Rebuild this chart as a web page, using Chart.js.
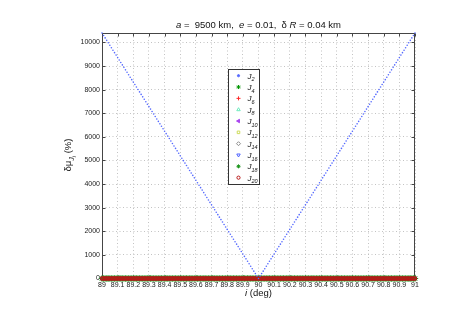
<!DOCTYPE html>
<html><head><meta charset="utf-8">
<script src="https://cdn.jsdelivr.net/npm/chart.js@4/dist/chart.umd.min.js"></script>
<style>html,body{margin:0;padding:0;background:#fff}#wrap{width:458px;height:323px}</style>
</head><body><div id="wrap"><canvas id="c" width="458" height="323"></canvas></div>
<script>
// inclination (deg)
const iDeg = [89,89.01,89.02,89.03,89.04,89.05,89.06,89.07,89.08,89.09,
89.1,89.11,89.12,89.13,89.14,89.15,89.16,89.17,89.18,89.19,
89.2,89.21,89.22,89.23,89.24,89.25,89.26,89.27,89.28,89.29,
89.3,89.31,89.32,89.33,89.34,89.35,89.36,89.37,89.38,89.39,
89.4,89.41,89.42,89.43,89.44,89.45,89.46,89.47,89.48,89.49,
89.5,89.51,89.52,89.53,89.54,89.55,89.56,89.57,89.58,89.59,
89.6,89.61,89.62,89.63,89.64,89.65,89.66,89.67,89.68,89.69,
89.7,89.71,89.72,89.73,89.74,89.75,89.76,89.77,89.78,89.79,
89.8,89.81,89.82,89.83,89.84,89.85,89.86,89.87,89.88,89.89,
89.9,89.91,89.92,89.93,89.94,89.95,89.96,89.97,89.98,89.99,
90,
90.01,90.02,90.03,90.04,90.05,90.06,90.07,90.08,90.09,90.1,
90.11,90.12,90.13,90.14,90.15,90.16,90.17,90.18,90.19,90.2,
90.21,90.22,90.23,90.24,90.25,90.26,90.27,90.28,90.29,90.3,
90.31,90.32,90.33,90.34,90.35,90.36,90.37,90.38,90.39,90.4,
90.41,90.42,90.43,90.44,90.45,90.46,90.47,90.48,90.49,90.5,
90.51,90.52,90.53,90.54,90.55,90.56,90.57,90.58,90.59,90.6,
90.61,90.62,90.63,90.64,90.65,90.66,90.67,90.68,90.69,90.7,
90.71,90.72,90.73,90.74,90.75,90.76,90.77,90.78,90.79,90.8,
90.81,90.82,90.83,90.84,90.85,90.86,90.87,90.88,90.89,90.9,
90.91,90.92,90.93,90.94,90.95,90.96,90.97,90.98,90.99,91];

// delta mu for J2 (%)
const dmuJ2 = [10400,10296,10192,10088,9984,9880,9776,9672,9568,9464,
9360,9256,9152,9048,8944,8840,8736,8632,8528,8424,
8320,8216,8112,8008,7904,7800,7696,7592,7488,7384,
7280,7176,7072,6968,6864,6760,6656,6552,6448,6344,
6240,6136,6032,5928,5824,5720,5616,5512,5408,5304,
5200,5096,4992,4888,4784,4680,4576,4472,4368,4264,
4160,4056,3952,3848,3744,3640,3536,3432,3328,3224,
3120,3016,2912,2808,2704,2600,2496,2392,2288,2184,
2080,1976,1872,1768,1664,1560,1456,1352,1248,1144,
1040,936,832,728,624,520,416,312,208,104,
0,
104,208,312,416,520,624,728,832,936,1040,
1144,1248,1352,1456,1560,1664,1768,1872,1976,2080,
2184,2288,2392,2496,2600,2704,2808,2912,3016,3120,
3224,3328,3432,3536,3640,3744,3848,3952,4056,4160,
4264,4368,4472,4576,4680,4784,4888,4992,5096,5200,
5304,5408,5512,5616,5720,5824,5928,6032,6136,6240,
6344,6448,6552,6656,6760,6864,6968,7072,7176,7280,
7384,7488,7592,7696,7800,7904,8008,8112,8216,8320,
8424,8528,8632,8736,8840,8944,9048,9152,9256,9360,
9464,9568,9672,9776,9880,9984,10088,10192,10296,10400];

// delta mu for J4..J20 (%) – all essentially zero on this scale
const dmuHigher = [0,0,0,0,0,0,0,0,0,0,0,0,0,0,0,0,0,0,0,0,
0,0,0,0,0,0,0,0,0,0,0,0,0,0,0,0,0,0,0,0,
0,0,0,0,0,0,0,0,0,0,0,0,0,0,0,0,0,0,0,0,
0,0,0,0,0,0,0,0,0,0,0,0,0,0,0,0,0,0,0,0,
0,0,0,0,0,0,0,0,0,0,0,0,0,0,0,0,0,0,0,0,
0,
0,0,0,0,0,0,0,0,0,0,0,0,0,0,0,0,0,0,0,0,
0,0,0,0,0,0,0,0,0,0,0,0,0,0,0,0,0,0,0,0,
0,0,0,0,0,0,0,0,0,0,0,0,0,0,0,0,0,0,0,0,
0,0,0,0,0,0,0,0,0,0,0,0,0,0,0,0,0,0,0,0,
0,0,0,0,0,0,0,0,0,0,0,0,0,0,0,0,0,0,0,0];

const seriesIdx = ['2','4','6','8','10','12','14','16','18','20'];
const xTickValues = [89,89.1,89.2,89.3,89.4,89.5,89.6,89.7,89.8,89.9,90,90.1,90.2,90.3,90.4,90.5,90.6,90.7,90.8,90.9,91];
const xTickLabels = ['89','89.1','89.2','89.3','89.4','89.5','89.6','89.7','89.8','89.9','90',
'90.1','90.2','90.3','90.4','90.5','90.6','90.7','90.8','90.9','91'];
const yTickValues = [0,1000,2000,3000,4000,5000,6000,7000,8000,9000,10000];
const yTickLabels = ['0','1000','2000','3000','4000','5000','6000','7000','8000','9000','10000'];

const FF = "'Liberation Sans', Arial, Helvetica, sans-serif";

const styles = [
  {c:'rgb(85,105,255)', ps:'circle',   r:0.8, fill:true,  rot:0,   bw:0},
  {c:'rgb(0,150,0)',    ps:'star',     r:2,   fill:false, rot:0,   bw:1},
  {c:'rgb(255,40,40)',  ps:'cross',    r:2,   fill:false, rot:0,   bw:1},
  {c:'rgb(110,235,190)',ps:'triangle', r:2,   fill:false, rot:0,   bw:1},
  {c:'rgb(170,70,240)', ps:'triangle', r:2,   fill:true,  rot:-90, bw:1},
  {c:'rgb(205,220,90)', ps:'rect',     r:1.8, fill:false, rot:0,   bw:1},
  {c:'rgb(140,140,140)',ps:'rectRot',  r:2,   fill:false, rot:0,   bw:1},
  {c:'rgb(80,100,255)', ps:'triangle', r:2,   fill:false, rot:180, bw:1},
  {c:'rgb(30,150,30)',  ps:'star',     r:3.2, fill:false, rot:0,   bw:1},
  {c:'rgb(185,25,25)',  ps:'circle',   r:1.6, fill:false, rot:0,   bw:1.2}
];

const datasets = seriesIdx.map((s, k) => ({
  label: 'J' + s,
  data: k === 0 ? dmuJ2 : dmuHigher,
  showLine: false,
  pointStyle: styles[k].ps,
  pointRadius: styles[k].r,
  pointRotation: styles[k].rot,
  pointBorderWidth: styles[k].bw,
  pointBorderColor: styles[k].c,
  pointBackgroundColor: styles[k].fill ? styles[k].c : 'rgba(0,0,0,0)',
  borderColor: styles[k].c,
  backgroundColor: styles[k].c,
  clip: false,
  order: k === 0 ? 0 : (11 - k)
}));

function runsWidth(ctx, runs){
  let w = 0;
  for (const r of runs){ ctx.font = r.font; w += ctx.measureText(r.t).width; }
  return w;
}
function drawRuns(ctx, runs, x, y){
  ctx.textAlign = 'left'; ctx.textBaseline = 'alphabetic';
  for (const r of runs){
    ctx.font = r.font;
    ctx.fillText(r.t, x, y + (r.dy || 0));
    x += ctx.measureText(r.t).width;
  }
}
function drawMarker(ctx, st, x, y){
  const opts = {pointStyle: st.ps, radius: Math.min(st.r, 2) + (st.r < 1 ? 0.3 : 0), rotation: st.rot, borderWidth: 1};
  ctx.save();
  ctx.strokeStyle = st.c;
  ctx.fillStyle = st.fill ? st.c : 'rgba(0,0,0,0)';
  ctx.lineWidth = st.bw ? 1 : 0;
  if (Chart.helpers && Chart.helpers.drawPoint) {
    Chart.helpers.drawPoint(ctx, opts, x, y);
  } else {
    ctx.beginPath(); ctx.arc(x, y, st.r, 0, Math.PI*2); ctx.fill(); ctx.stroke();
  }
  ctx.restore();
}

const deco = {
  id: 'deco',
  beforeDatasetsDraw(chart){
    const {ctx, chartArea:a, scales:{x, y}} = chart;
    ctx.save();
    ctx.strokeStyle = '#454545';
    ctx.lineWidth = 1;
    const L = Math.round(a.left)+0.5, R = Math.round(a.right)-0.5, T = Math.round(a.top)+0.5, B = Math.round(a.bottom)-0.5;
    ctx.strokeRect(L, T, R-L, B-T);
    ctx.beginPath();
    x.ticks.forEach(t => {
      const px = Math.round(x.getPixelForValue(t.value)) + 0.5;
      ctx.moveTo(px, B); ctx.lineTo(px, B-3);
      ctx.moveTo(px, T); ctx.lineTo(px, T+3);
    });
    y.ticks.forEach(t => {
      const py = Math.round(y.getPixelForValue(t.value)) + 0.5;
      ctx.moveTo(L, py); ctx.lineTo(L+3, py);
      ctx.moveTo(R, py); ctx.lineTo(R-3, py);
    });
    ctx.stroke();
    ctx.restore();
  },
  afterDraw(chart){
    const {ctx, chartArea:a} = chart;
    ctx.save();
    ctx.fillStyle = '#111';
    const fs = 9.5;
    const N = fs + 'px ' + FF, I = 'italic ' + fs + 'px ' + FF;
    // title
    const title = [{t:'a', font:I},{t:' =  9500 km,  ', font:N},{t:'e', font:I},{t:' = 0.01,  δ ', font:N},{t:'R', font:I},{t:' = 0.04 km', font:N}];
    const cx = (a.left + a.right)/2;
    drawRuns(ctx, title, cx - runsWidth(ctx, title)/2, 27.5);
    // x title
    const xt = [{t:'i', font:I},{t:' (deg)', font:N}];
    drawRuns(ctx, xt, cx - runsWidth(ctx, xt)/2, 295.5);
    // y title
    const yt = [{t:'δμ', font:N},{t:'J', font:'italic 7px ' + FF, dy:3},{t:'i', font:'italic 5.5px ' + FF, dy:5},{t:' (%)', font:N}];
    ctx.save();
    ctx.translate(70.5, 155);
    ctx.rotate(-Math.PI/2);
    drawRuns(ctx, yt, -runsWidth(ctx, yt)/2, 0);
    ctx.restore();
    // legend
    const lx = 228.5, ly = 69.5, lw = 31, lh = 115;
    ctx.fillStyle = '#fff';
    ctx.fillRect(lx, ly, lw, lh);
    ctx.strokeStyle = '#333'; ctx.lineWidth = 1;
    ctx.strokeRect(lx, ly, lw, lh);
    chart.data.datasets.forEach((ds, k) => {
      const yy = 75.7 + k * 11.33;
      drawMarker(ctx, styles[k], 238.5, yy);
      ctx.fillStyle = '#111';
      const lab = [{t:'J', font:'italic 8px ' + FF},{t:seriesIdx[k], font:'italic 5.5px ' + FF, dy:2.5}];
      drawRuns(ctx, lab, 247.5, yy + 3);
    });
    ctx.restore();
  }
};

const gridCfg = { color: 'rgba(185,185,185,0.85)', drawTicks: false, lineWidth: 1 };

new Chart(document.getElementById('c'), {
  type: 'line',
  data: { labels: iDeg, datasets: datasets },
  options: {
    responsive: false,
    animation: false,
    devicePixelRatio: 1,
    layout: { padding: { top: 33, right: 43, left: 0, bottom: 0 } },
    plugins: { legend: { display: false }, tooltip: { enabled: false }, title: { display: false } },
    scales: {
      x: {
        type: 'linear', min: 89, max: 91,
        afterFit(s){ s.height = 44.5; },
        afterBuildTicks(s){ s.ticks = xTickValues.map(v => ({value: v})); },
        grid: gridCfg,
        border: { display: false, dash: [1, 2.5] },
        ticks: {
          padding: 2, maxRotation: 0, autoSkip: false,
          font: { family: FF, size: 7 }, color: '#222',
          callback: (v, idx) => xTickLabels[idx]
        }
      },
      y: {
        type: 'linear', min: 0, max: 10400,
        afterFit(s){ s.width = 102; },
        afterBuildTicks(s){ s.ticks = yTickValues.map(v => ({value: v})); },
        grid: gridCfg,
        border: { display: false, dash: [1, 2.5] },
        ticks: {
          padding: 2, autoSkip: false,
          font: { family: FF, size: 7 }, color: '#222',
          callback: (v, idx) => yTickLabels[idx]
        }
      }
    }
  },
  plugins: [deco]
});
</script></body></html>
